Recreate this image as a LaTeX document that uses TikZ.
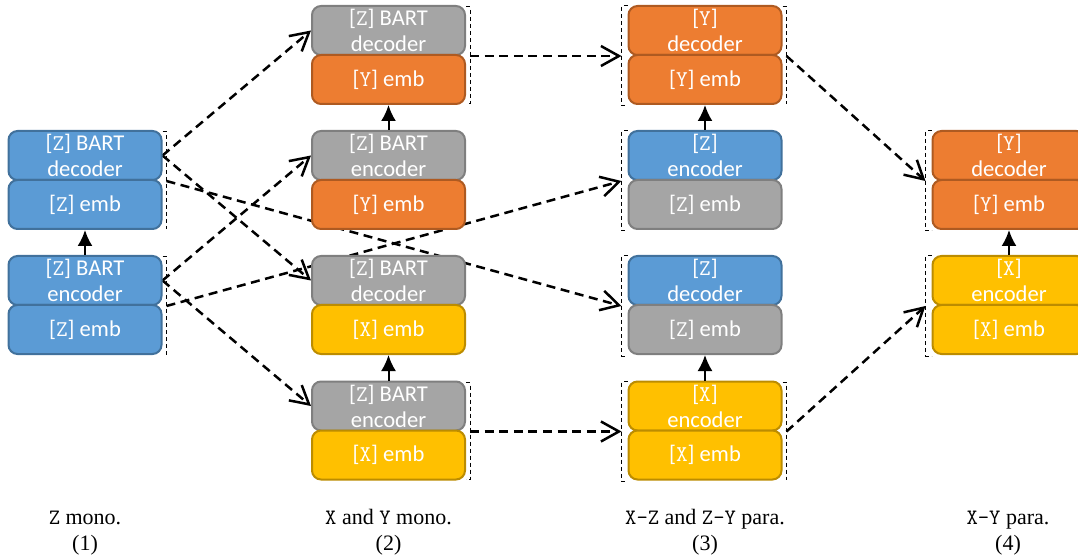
\documentclass[tikz,border=0pt]{standalone}
\usepackage{fontspec}
\setmainfont{Liberation Serif}
\newfontfamily\boxfont{Carlito}
\usetikzlibrary{arrows.meta,calc}
\pgfdeclarelayer{bg}
\pgfsetlayers{bg,main}
\definecolor{bfill}{HTML}{5B9BD5}\definecolor{bdraw}{HTML}{41719C}
\definecolor{ofill}{HTML}{ED7D31}\definecolor{odraw}{HTML}{AE5A21}
\definecolor{gfill}{HTML}{A5A5A5}\definecolor{gdraw}{HTML}{7F7F7F}
\definecolor{yfill}{HTML}{FFC000}\definecolor{ydraw}{HTML}{BC8C00}
\tikzset{
  blk/.style={draw, line width=1pt, rounded corners=4.5pt, minimum width=76.5pt,
    minimum height=24.5pt, inner sep=0pt, align=center, text=white,
    font=\boxfont\fontsize{11.3}{13}\selectfont},
  bluebox/.style={blk, fill=bfill, draw=bdraw},
  orangebox/.style={blk, fill=ofill, draw=odraw},
  graybox/.style={blk, fill=gfill, draw=gdraw},
  yellowbox/.style={blk, fill=yfill, draw=ydraw},
  brk/.style={draw, line width=0.5pt, dash pattern=on 2pt off 1.5pt},
  link/.style={line width=1.25pt, dash pattern=on 4.5pt off 2.8pt,
    -{Straight Barb[length=9pt,width=10pt,line width=1.25pt]}},
  uparrow/.style={line width=1pt, -{Latex[length=8pt,width=7.5pt]}},
  captext/.style={font=\fontsize{11}{13}\selectfont, anchor=base, inner sep=0pt}
}
\newcommand{\rbrk}[2]{\draw[brk] ($(#1.north east)+(0,2)$) -- ++(4,0) -- ($(#2.south east)+(4,-1)$) -- ++(-4,0);}
\newcommand{\lbrk}[2]{\draw[brk] ($(#1.north west)+(0,1)$) -- ++(-6,0) -- ($(#2.south west)+(-6,1)$) -- ++(6,0);}
\begin{document}
\begin{tikzpicture}[x=0.5pt,y=-0.5pt]
\useasboundingbox (0,0) rectangle (1078,556);
\clip (0,0) rectangle (1078,556);

% column 1
\node[bluebox] (c1r2t) at (85,155.5) {[\texttt{Z}] BART\\decoder};
\node[bluebox] (c1r2b) at (85,204.5) {[\texttt{Z}] emb};
\node[bluebox] (c1r3t) at (85,280.5) {[\texttt{Z}] BART\\encoder};
\node[bluebox] (c1r3b) at (85,329.5) {[\texttt{Z}] emb};

% column 2
\node[graybox] (c2r1t) at (388.5,30.5) {[\texttt{Z}] BART\\decoder};
\node[orangebox] (c2r1b) at (388.5,79.5) {[\texttt{Y}] emb};
\node[graybox] (c2r2t) at (388.5,155.5) {[\texttt{Z}] BART\\encoder};
\node[orangebox] (c2r2b) at (388.5,204.5) {[\texttt{Y}] emb};
\node[graybox] (c2r3t) at (388.5,280.5) {[\texttt{Z}] BART\\decoder};
\node[yellowbox] (c2r3b) at (388.5,329.5) {[\texttt{X}] emb};
\node[graybox] (c2r4t) at (388.5,406) {[\texttt{Z}] BART\\encoder};
\node[yellowbox] (c2r4b) at (388.5,455) {[\texttt{X}] emb};

% column 3
\node[orangebox] (c3r1t) at (705,30.5) {[\texttt{Y}]\\decoder};
\node[orangebox] (c3r1b) at (705,79.5) {[\texttt{Y}] emb};
\node[bluebox] (c3r2t) at (705,155.5) {[\texttt{Z}]\\encoder};
\node[graybox] (c3r2b) at (705,204.5) {[\texttt{Z}] emb};
\node[bluebox] (c3r3t) at (705,280.5) {[\texttt{Z}]\\decoder};
\node[graybox] (c3r3b) at (705,329.5) {[\texttt{Z}] emb};
\node[yellowbox] (c3r4t) at (705,406) {[\texttt{X}]\\encoder};
\node[yellowbox] (c3r4b) at (705,455) {[\texttt{X}] emb};

% column 4
\node[orangebox] (c4r2t) at (1009,155.5) {[\texttt{Y}]\\decoder};
\node[orangebox] (c4r2b) at (1009,204.5) {[\texttt{Y}] emb};
\node[yellowbox] (c4r3t) at (1009,280.5) {[\texttt{X}]\\encoder};
\node[yellowbox] (c4r3b) at (1009,329.5) {[\texttt{X}] emb};

% vertical arrows
\draw[uparrow] (c1r3t.north) -- (c1r2b.south);
\draw[uparrow] (c2r2t.north) -- (c2r1b.south);
\draw[uparrow] (c2r4t.north) -- (c2r3b.south);
\draw[uparrow] (c3r2t.north) -- (c3r1b.south);
\draw[uparrow] (c3r4t.north) -- (c3r3b.south);
\draw[uparrow] (c4r3t.north) -- (c4r2b.south);

% brackets
\rbrk{c1r2t}{c1r2b}
\rbrk{c1r3t}{c1r3b}
\rbrk{c2r1t}{c2r1b}
\rbrk{c2r4t}{c2r4b}
\lbrk{c3r1t}{c3r1b}
\rbrk{c3r1t}{c3r1b}
\lbrk{c3r2t}{c3r2b}
\lbrk{c3r3t}{c3r3b}
\lbrk{c3r4t}{c3r4b}
\rbrk{c3r4t}{c3r4b}
\lbrk{c4r2t}{c4r2b}
\lbrk{c4r3t}{c4r3b}

% bracket anchor points
\coordinate (c1r2R) at ($(c1r2t.south east)+(4,0)$);
\coordinate (c1r3R) at ($(c1r3t.south east)+(4,0)$);
\coordinate (c2r1R) at ($(c2r1t.south east)+(4,0)$);
\coordinate (c2r4R) at ($(c2r4t.south east)+(4,0)$);
\coordinate (c3r1L) at ($(c3r1t.south west)+(-6,0)$);
\coordinate (c3r1R) at ($(c3r1t.south east)+(4,0)$);
\coordinate (c3r2L) at ($(c3r2t.south west)+(-6,0)$);
\coordinate (c3r3L) at ($(c3r3t.south west)+(-6,0)$);
\coordinate (c3r4L) at ($(c3r4t.south west)+(-6,0)$);
\coordinate (c3r4R) at ($(c3r4t.south east)+(4,0)$);
\coordinate (c4r2L) at ($(c4r2t.south west)+(-6,0)$);
\coordinate (c4r3L) at ($(c4r3t.south west)+(-6,0)$);

% dashed transfer arrows
\begin{pgfonlayer}{bg}
\draw[link] (c1r2t.east) -- (c2r1t.west);
\draw[link] (c1r2t.east) -- (c2r3t.west);
\draw[link] (c1r3t.east) -- (c2r2t.west);
\draw[link] (c1r3t.east) -- (c2r4t.west);
\draw[link] (c1r2R) -- (c3r3L);
\draw[link] (c1r3R) -- (c3r2L);
\draw[link] (c2r1R) -- (c3r1L);
\draw[link] (c2r4R) -- (c3r4L);
\draw[link] (c3r1R) -- (c4r2L);
\draw[link] (c3r4R) -- (c4r3L);
\end{pgfonlayer}

% captions
\node[captext] (cap1) at (85,524) {\texttt{Z} mono.};
\node[captext] (num1) at (85,550) {(1)};
\node[captext] (cap2) at (388.5,524) {\texttt{X} and \texttt{Y} mono.};
\node[captext] (num2) at (388.5,550) {(2)};
\node[captext] (cap3) at (705,524) {\texttt{X-Z} and \texttt{Z-Y} para.};
\node[captext] (num3) at (705,550) {(3)};
\node[captext] (cap4) at (1008,524) {\texttt{X-Y} para.};
\node[captext] (num4) at (1008,550) {(4)};
\end{tikzpicture}
\end{document}
